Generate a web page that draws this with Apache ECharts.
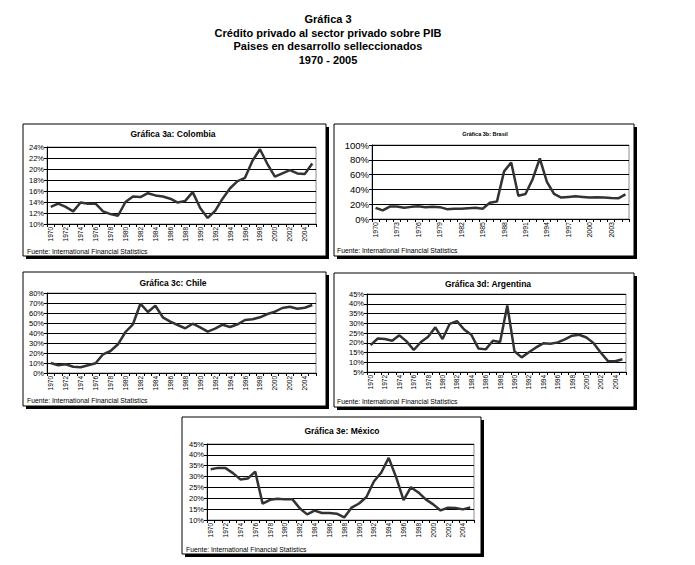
<!DOCTYPE html>
<html>
<head>
<meta charset="utf-8">
<script src="https://cdn.jsdelivr.net/npm/echarts@6/dist/echarts.min.js"></script>
<style>
  html, body { margin: 0; padding: 0; background: #fff; }
  #main { width: 695px; height: 565px; }
</style>
</head>
<body>
<div id="main"></div>
<script>
// datos: credito privado / PIB (%), 1970 - 2005
var years = ['1970', '1971', '1972', '1973', '1974', '1975', '1976', '1977', '1978', '1979',
  '1980', '1981', '1982', '1983', '1984', '1985', '1986', '1987', '1988', '1989',
  '1990', '1991', '1992', '1993', '1994', '1995', '1996', '1997', '1998', '1999',
  '2000', '2001', '2002', '2003', '2004', '2005'];

var colombia = [13.1, 13.7, 13.1, 12.3, 13.9, 13.7, 13.7, 12.3, 11.8, 11.5,
  14.0, 15.0, 14.9, 15.6, 15.2, 15.0, 14.6, 13.9, 14.2, 15.8,
  12.9, 11.1, 12.4, 14.6, 16.5, 17.8, 18.4, 21.5, 23.6, 20.9,
  18.6, 19.2, 19.8, 19.2, 19.1, 21.0];

var brasil = [15.1, 11.6, 16.8, 16.8, 15.1, 16.4, 17.2, 16.0, 16.4, 16.0,
  13.3, 13.8, 13.8, 14.6, 15.1, 13.8, 22.0, 23.5, 64.4, 76.4,
  31.5, 33.8, 53.8, 81.8, 50.2, 33.8, 28.9, 29.8, 30.7, 29.8,
  28.9, 29.3, 28.9, 28.4, 28.0, 33.3];

var chile = [10.0, 7.7, 8.7, 6.3, 5.7, 7.7, 9.7, 18.7, 22.0, 28.7,
  41.0, 48.7, 69.3, 61.0, 67.3, 55.7, 51.3, 48.0, 44.7, 49.3,
  45.7, 41.3, 44.3, 48.3, 46.0, 48.7, 53.0, 53.7, 55.7, 59.0,
  61.3, 65.0, 66.3, 64.3, 65.3, 68.0];

var argentina = [18.8, 22.2, 21.9, 21.0, 23.8, 20.7, 16.3, 20.4, 23.1, 27.9,
  21.9, 29.7, 31.1, 26.8, 24.1, 17.0, 16.6, 21.0, 20.4, 39.1,
  15.6, 12.5, 15.1, 17.6, 19.7, 19.5, 20.2, 21.7, 23.6, 24.1,
  22.7, 19.8, 14.9, 10.6, 10.5, 11.5];

var mexico = [33.4, 34.0, 33.9, 31.6, 28.7, 29.1, 32.3, 17.5, 19.3, 19.8,
  19.5, 19.6, 15.4, 12.6, 14.3, 13.2, 13.2, 12.9, 11.2, 15.7,
  17.6, 20.6, 27.7, 31.9, 38.6, 29.7, 19.2, 25.1, 22.7, 19.5,
  17.2, 14.4, 15.7, 15.5, 14.9, 15.8];

// marcas del eje y
var colombiaTicks = [10, 12, 14, 16, 18, 20, 22, 24];
var brasilTicks = [0, 20, 40, 60, 80, 100];
var chileTicks = [0, 10, 20, 30, 40, 50, 60, 70, 80];
var argentinaTicks = [5, 10, 15, 20, 25, 30, 35, 40, 45];
var mexicoTicks = [10, 15, 20, 25, 30, 35, 40, 45];

var FONT = '"Liberation Sans", Arial, sans-serif';

var panels = [
  { title: 'Gráfica 3a: Colombia', data: colombia, ticks: colombiaTicks,
    box: [23, 124, 303, 132], grid: [47, 147, 269, 77], titlePos: [173, 134], titleSize: 8.5,
    yFont: 7.5, xFont: 6.5, xInterval: 1, fuente: [27, 251.5] },
  { title: 'Gráfica 3b: Brasil', data: brasil, ticks: brasilTicks,
    box: [334, 124, 300, 132], grid: [372, 145, 257, 74], titlePos: [485, 134], titleSize: 5.5,
    yFont: 9.5, xFont: 7, xInterval: 2, fuente: [337, 250] },
  { title: 'Gráfica 3c: Chile', data: chile, ticks: chileTicks,
    box: [23, 272, 303, 134], grid: [47, 293, 269, 80], titlePos: [173, 283], titleSize: 8.5,
    yFont: 7.5, xFont: 6.5, xInterval: 1, fuente: [27, 400.5] },
  { title: 'Gráfica 3d: Argentina', data: argentina, ticks: argentinaTicks,
    box: [334, 273, 300, 134], grid: [367, 294, 259, 78], titlePos: [488, 284], titleSize: 8.5,
    yFont: 7.5, xFont: 6.5, xInterval: 1, fuente: [337, 401.5] },
  { title: 'Gráfica 3e: México', data: mexico, ticks: mexicoTicks,
    box: [182, 417, 299, 137], grid: [207, 444, 267, 76], titlePos: [342, 431], titleSize: 8.5,
    yFont: 7.5, xFont: 6.5, xInterval: 1, fuente: [186, 549] }
];

var grids = [], xAxes = [], yAxes = [], series = [], graphics = [];

// titulo general
var mainLines = ['Gráfica 3', 'Crédito privado al sector privado sobre PIB',
  'Paises en desarrollo selleccionados', '1970 - 2005'];
mainLines.forEach(function (t, i) {
  graphics.push({
    type: 'text', x: 328, y: 19 + i * 13.7, z: 10,
    style: { text: t, font: 'bold 11px ' + FONT, fill: '#000',
      textAlign: 'center', textVerticalAlign: 'middle' }
  });
});

panels.forEach(function (p, i) {
  var b = p.box;
  // sombra
  graphics.push({ type: 'rect', z: -20, shape: { x: b[0] + 3, y: b[1] + 3, width: b[2], height: b[3] },
    style: { fill: '#000' } });
  // recuadro
  graphics.push({ type: 'rect', z: -19, shape: { x: b[0], y: b[1], width: b[2], height: b[3] },
    style: { fill: '#fff', stroke: '#000', lineWidth: 1 } });
  graphics.push({
    type: 'text', x: p.titlePos[0], y: p.titlePos[1], z: 10,
    style: { text: p.title, font: 'bold ' + p.titleSize + 'px ' + FONT, fill: '#000',
      textAlign: 'center', textVerticalAlign: 'middle' }
  });
  graphics.push({
    type: 'text', x: p.fuente[0], y: p.fuente[1], z: 10,
    style: { text: 'Fuente: International Financial Statistics', font: '6.8px ' + FONT, fill: '#000',
      textAlign: 'left', textVerticalAlign: 'middle' }
  });

  grids.push({
    left: p.grid[0], top: p.grid[1], width: p.grid[2], height: p.grid[3],
    show: true, borderColor: '#8c8c8c', borderWidth: 1, backgroundColor: 'transparent'
  });

  xAxes.push({
    type: 'category', gridIndex: i, data: years, boundaryGap: true,
    axisLine: { lineStyle: { color: '#000', width: 1 } },
    axisTick: { show: true, interval: 0, length: 3, inside: false, lineStyle: { color: '#000' } },
    axisLabel: { interval: p.xInterval, rotate: 90, margin: 3, fontSize: p.xFont,
      fontFamily: FONT, color: '#000' },
    splitLine: { show: false }
  });

  var t = p.ticks;
  yAxes.push({
    type: 'value', gridIndex: i,
    min: t[0], max: t[t.length - 1], interval: t[1] - t[0],
    axisLine: { show: true, lineStyle: { color: '#000', width: 1 } },
    axisTick: { show: true, length: 3, lineStyle: { color: '#000' } },
    axisLabel: { formatter: '{value}%', fontSize: p.yFont, fontFamily: FONT, color: '#000', margin: 3 },
    splitLine: { show: true, lineStyle: { color: '#000', width: 1 } }
  });

  series.push({
    type: 'line', xAxisIndex: i, yAxisIndex: i, data: p.data,
    showSymbol: false, symbol: 'none', smooth: false,
    lineStyle: { color: '#333', width: 2.5 },
    animation: false
  });
});

var chart = echarts.init(document.getElementById('main'), null, { renderer: 'svg' });
chart.setOption({
  backgroundColor: '#fff',
  animation: false,
  grid: grids,
  xAxis: xAxes,
  yAxis: yAxes,
  series: series,
  graphic: { elements: graphics }
});
</script>
</body>
</html>
